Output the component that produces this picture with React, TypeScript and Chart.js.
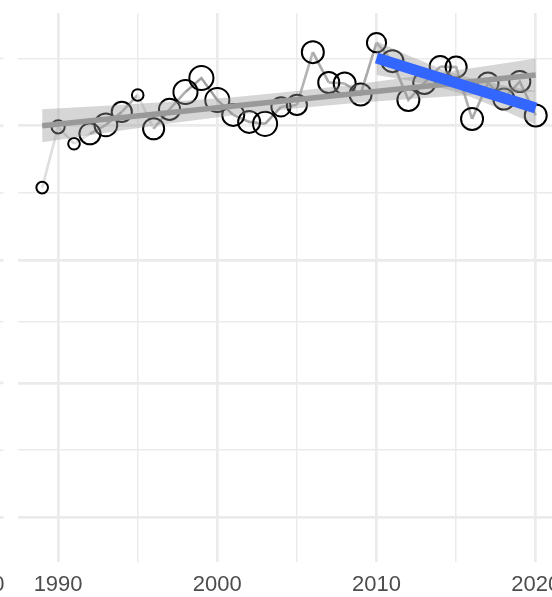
import React, { useEffect, useRef } from "react";
import { Chart, registerables } from "chart.js";

Chart.register(...registerables);

// ---- data ----
const years = [
  1989, 1990, 1991, 1992, 1993, 1994, 1995, 1996, 1997, 1998, 1999, 2000,
  2001, 2002, 2003, 2004, 2005, 2006, 2007, 2008, 2009, 2010, 2011, 2012,
  2013, 2014, 2015, 2016, 2017, 2018, 2019, 2020,
];
const values = [
  57.5, 99.1, 85.2, 93.1, 100.9, 113.3, 131.8, 97.4, 115.9, 135.4, 153.4, 126.1,
  110.3, 103.6, 101.8, 118.5, 120.6, 193.5, 147.4, 146.1, 132.4, 210.6, 178.5, 126.1,
  146.8, 170.0, 169.2, 106.4, 146.8, 127.2, 148.7, 109.8,
];
const sizes = [
  7, 9, 7, 23, 27, 21, 7, 23, 23, 30, 30, 30,
  25, 25, 30, 19, 21, 25, 23, 25, 25, 19, 25, 25,
  25, 23, 23, 25, 23, 23, 23, 25,
];

// overall trend (all years)
const trendYears = [1989, 2020];
const trendValues = [100, 157.6];
const trendBandYears = [1989, 1993, 1997, 2001, 2005, 2009, 2013, 2017, 2020];
const trendBandLower = [86.3, 94.0, 102.1, 110.0, 117.1, 123.3, 128.4, 132.9, 136.0];
const trendBandUpper = [115.9, 119.6, 124.0, 129.2, 136.5, 145.8, 157.6, 171.2, 182.6];

// recent trend (2010 onwards)
const recentYears = [2010, 2020];
const recentValues = [183.4, 117.4];
const recentBandYears = [2010, 2012, 2014, 2015, 2016, 2018, 2020];
const recentBandLower = [157.6, 150.0, 141.0, 135.3, 128.9, 114.8, 100.9];
const recentBandUpper = [213.4, 187.6, 167.0, 159.1, 152.8, 143.5, 136.6];

// axes
const xMajorTicks = [1990, 2000, 2010, 2020];
const xMinorTicks = [1995, 2005, 2015];
const yMajorTicks = [3, 10, 30, 100];
const yMinorTicks = [5.477, 17.32, 54.77, 182.6];
const neighbourLabel = "2020";

const X_MIN = 1987.45;
const X_MAX = 2021.55;
const Y_MIN = 2.017;
const Y_MAX = 274.7;

const GRID = "#ebebeb";
const MAJOR_W = 2.7;
const MINOR_W = 1.5;
const FONT = '"Liberation Sans", Arial, sans-serif';
const FONT_SIZE = 22;
const LABEL_PAD = 10;

const pts = (xs: number[], ys: number[]) => xs.map((x, i) => ({ x, y: ys[i] }));

const sMin = Math.sqrt(Math.min(...sizes));
const sMax = Math.sqrt(Math.max(...sizes));
const segColor = (n: number) => {
  const t = (Math.sqrt(n) - sMin) / (sMax - sMin);
  const g = Math.round(222 - t * 62);
  return `rgb(${g},${g},${g})`;
};

const isMajorY = (v: number) => yMajorTicks.some((m) => Math.abs(m - v) < 1e-6);

const leftStub = {
  id: "leftStub",
  beforeDraw(chart: any) {
    const ctx = chart.ctx;
    const y = chart.scales.y;
    ctx.save();
    ctx.strokeStyle = GRID;
    [...yMajorTicks, ...yMinorTicks].forEach((v) => {
      const p = y.getPixelForValue(v);
      ctx.lineWidth = isMajorY(v) ? MAJOR_W : MINOR_W;
      ctx.beginPath();
      ctx.moveTo(0, p);
      ctx.lineTo(3.5, p);
      ctx.stroke();
    });
    ctx.fillStyle = "#4d4d4d";
    ctx.font = `${FONT_SIZE}px ${FONT}`;
    ctx.textAlign = "center";
    ctx.textBaseline = "middle";
    ctx.fillText(neighbourLabel, -20, chart.chartArea.bottom + LABEL_PAD + FONT_SIZE * 0.6);
    ctx.restore();
  },
};

export default function App() {
  const ref = useRef<HTMLCanvasElement | null>(null);

  useEffect(() => {
    if (!ref.current) return;
    const ribbon = "rgba(153,153,153,0.4)";
    const chart = new Chart(ref.current, {
      type: "line",
      data: {
        datasets: [
          {
            label: "path",
            data: pts(years, values),
            borderWidth: 2.6,
            borderColor: "#cccccc",
            segment: {
              borderColor: (c: any) => segColor(sizes[c.p0DataIndex]),
            },
            pointRadius: 0,
            fill: false,
            order: 6,
          },
          {
            label: "points",
            data: pts(years, values),
            showLine: false,
            pointRadius: sizes.map((n) => 2.2 * Math.sqrt(n)),
            pointBorderWidth: 2,
            pointBorderColor: "#000000",
            pointBackgroundColor: "rgba(0,0,0,0)",
            order: 5,
          },
          {
            label: "trendUpper",
            data: pts(trendBandYears, trendBandUpper),
            borderWidth: 0,
            pointRadius: 0,
            backgroundColor: ribbon,
            fill: "+1",
            order: 4,
          },
          {
            label: "trendLower",
            data: pts(trendBandYears, trendBandLower),
            borderWidth: 0,
            pointRadius: 0,
            fill: false,
            order: 4,
          },
          {
            label: "trend",
            data: pts(trendYears, trendValues),
            borderWidth: 5.5,
            borderColor: "#999999",
            pointRadius: 0,
            fill: false,
            order: 3,
          },
          {
            label: "recentUpper",
            data: pts(recentBandYears, recentBandUpper),
            borderWidth: 0,
            pointRadius: 0,
            backgroundColor: ribbon,
            fill: "+1",
            order: 2,
          },
          {
            label: "recentLower",
            data: pts(recentBandYears, recentBandLower),
            borderWidth: 0,
            pointRadius: 0,
            fill: false,
            order: 2,
          },
          {
            label: "recent",
            data: pts(recentYears, recentValues),
            borderWidth: 11,
            borderColor: "#3366FF",
            pointRadius: 0,
            fill: false,
            order: 1,
          },
        ],
      } as any,
      options: {
        animation: false,
        responsive: false,
        events: [],
        layout: { padding: { top: 10.7, right: 39.6, left: 0, bottom: 0 } },
        plugins: {
          legend: { display: false },
          tooltip: { enabled: false },
        },
        scales: {
          x: {
            type: "linear",
            min: X_MIN,
            max: X_MAX,
            border: { display: false },
            afterBuildTicks: (s: any) => {
              s.ticks = [...xMajorTicks, ...xMinorTicks]
                .sort((a, b) => a - b)
                .map((v) => ({ value: v }));
            },
            afterFit: (s: any) => {
              s.height = 35.3;
            },
            grid: {
              color: GRID,
              drawTicks: false,
              lineWidth: (c: any) =>
                c.tick && xMajorTicks.includes(c.tick.value) ? MAJOR_W : MINOR_W,
            },
            ticks: {
              autoSkip: false,
              maxRotation: 0,
              padding: LABEL_PAD,
              color: "#4d4d4d",
              font: { family: FONT, size: FONT_SIZE },
              callback: (v: any) => (xMajorTicks.includes(Number(v)) ? String(v) : ""),
            },
          },
          y: {
            type: "logarithmic",
            min: Y_MIN,
            max: Y_MAX,
            border: { display: false },
            afterBuildTicks: (s: any) => {
              s.ticks = [...yMajorTicks, ...yMinorTicks]
                .sort((a, b) => a - b)
                .map((v) => ({ value: v }));
            },
            afterFit: (s: any) => {
              s.width = 17.5;
            },
            grid: {
              color: GRID,
              drawTicks: false,
              lineWidth: (c: any) => (c.tick && isMajorY(c.tick.value) ? MAJOR_W : MINOR_W),
            },
            ticks: { display: false },
          },
        },
      } as any,
      plugins: [leftStub],
    });
    return () => chart.destroy();
  }, []);

  return (
    <div
      style={{
        position: "fixed",
        left: 0,
        top: 0,
        width: 552,
        height: 597,
        overflow: "hidden",
        background: "#ffffff",
      }}
    >
      <canvas ref={ref} width={600} height={597} style={{ display: "block" }} />
    </div>
  );
}
